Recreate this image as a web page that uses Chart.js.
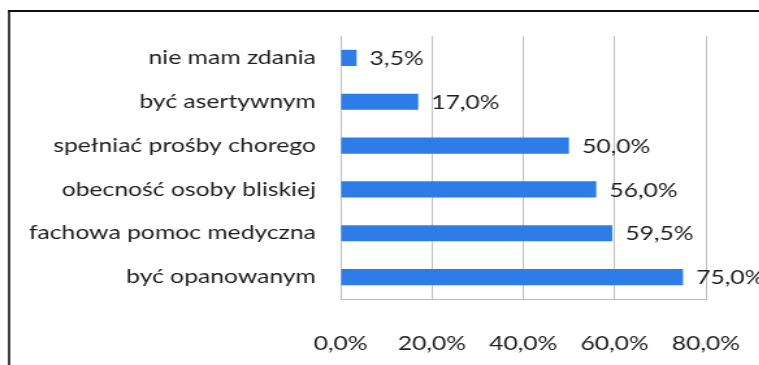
<!DOCTYPE html>
<html>
<head>
<meta charset="utf-8">
<script src="https://cdn.jsdelivr.net/npm/chart.js@4/dist/chart.umd.min.js"></script>
<style>
  html, body { margin: 0; padding: 0; background: #ffffff; overflow: hidden; }
  #wrap { position: relative; width: 759px; height: 365px; overflow: hidden; }
  /* the drawing is laid out in a narrower box and widened to the page width */
  #c { position: absolute; left: 0; top: 0; transform-origin: 0 0; transform: scaleX(1.3); }
</style>
</head>
<body>
<div id="wrap"><canvas id="c" width="584" height="365"></canvas></div>
<script>
// Odpowiedzi (od góry do dołu) i odsetek wskazań
const categories = [
  'nie mam zdania',
  'być asertywnym',
  'spełniać prośby chorego',
  'obecność osoby bliskiej',
  'fachowa pomoc medyczna',
  'być opanowanym'
];
const values = [3.5, 17.0, 50.0, 56.0, 59.5, 75.0];
const valueLabels = ['3,5%', '17,0%', '50,0%', '56,0%', '59,5%', '75,0%'];
const tickLabels = ['0,0%', '20,0%', '40,0%', '60,0%', '80,0%'];

const FONT = 'Lato, "Open Sans", sans-serif';
const TEXT = '#1e1e1e';
const FONT_SIZE = 19;

// Black frame line along the left and top edges
const framePlugin = {
  id: 'frame',
  beforeDraw(chart) {
    const ctx = chart.ctx;
    ctx.save();
    ctx.strokeStyle = '#111111';
    ctx.lineWidth = 1.6;
    ctx.beginPath();
    ctx.moveTo(7, 365);
    ctx.lineTo(7, 10);
    ctx.stroke();
    ctx.lineWidth = 2;
    ctx.beginPath();
    ctx.moveTo(6.2, 11);
    ctx.lineTo(584, 11);
    ctx.stroke();
    ctx.restore();
  }
};

// Value labels to the right of each bar
const valueLabelPlugin = {
  id: 'valueLabels',
  afterDatasetsDraw(chart) {
    const ctx = chart.ctx;
    const meta = chart.getDatasetMeta(0);
    ctx.save();
    ctx.font = FONT_SIZE + 'px ' + FONT;
    ctx.fillStyle = TEXT;
    ctx.textAlign = 'left';
    ctx.textBaseline = 'middle';
    meta.data.forEach((bar, i) => {
      ctx.fillText(valueLabels[i], bar.x + 10, bar.y + 1);
    });
    ctx.restore();
  }
};

new Chart(document.getElementById('c'), {
  type: 'bar',
  data: {
    labels: categories,
    datasets: [{
      data: values,
      backgroundColor: '#2d7ce8',
      borderWidth: 0,
      barPercentage: 0.37,
      categoryPercentage: 1.0
    }]
  },
  options: {
    indexAxis: 'y',
    responsive: false,
    animation: false,
    events: [],
    layout: { padding: { left: 0, right: 41, top: 36, bottom: 0 } },
    plugins: {
      legend: { display: false },
      tooltip: { enabled: false }
    },
    scales: {
      x: {
        min: 0,
        max: 80,
        ticks: {
          stepSize: 20,
          padding: 33,
          maxRotation: 0,
          color: TEXT,
          font: { family: FONT, size: FONT_SIZE },
          callback: (v, i) => tickLabels[i]
        },
        grid: { color: '#bdbdbd', lineWidth: 1, drawTicks: false },
        border: { display: true, color: '#bdbdbd' },
        afterFit(scale) {
          scale.height = 66;
          scale.paddingLeft = 0;
          scale.paddingRight = 0;
        }
      },
      y: {
        ticks: {
          padding: 19,
          color: TEXT,
          font: { family: FONT, size: FONT_SIZE }
        },
        grid: { display: false, drawTicks: false },
        border: { display: true, color: '#bdbdbd' },
        afterFit(scale) { scale.width = 262; }
      }
    }
  },
  plugins: [framePlugin, valueLabelPlugin]
});
</script>
</body>
</html>
